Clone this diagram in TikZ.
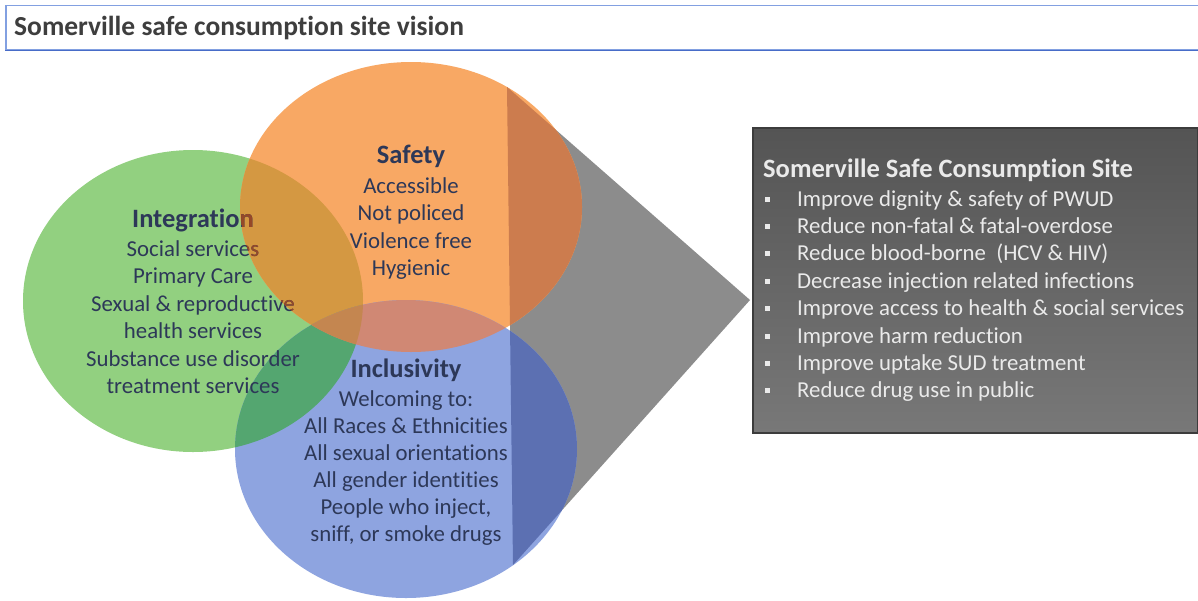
\documentclass[tikz,border=0pt]{standalone}
\usepackage{fontspec}
\setmainfont{Carlito}[Ligatures=NoCommon]
\definecolor{cgreen}{RGB}{146,208,128}
\definecolor{corange}{RGB}{248,168,100}
\definecolor{cblue}{RGB}{142,164,224}
\definecolor{cgo}{RGB}{212,152,66}
\definecolor{cgb}{RGB}{84,166,112}
\definecolor{cob}{RGB}{208,136,116}
\definecolor{cgob}{RGB}{196,134,80}
\definecolor{cgray}{RGB}{140,140,140}
\definecolor{cdorange}{RGB}{204,124,78}
\definecolor{cdblue}{RGB}{92,112,178}
\definecolor{cdob}{RGB}{170,100,90}
\definecolor{navy}{RGB}{45,56,88}
\definecolor{tintbrown}{RGB}{150,72,40}
\definecolor{boxtext}{RGB}{234,234,234}
\definecolor{boxedge}{RGB}{60,60,60}
\definecolor{boxtop}{RGB}{84,84,84}
\definecolor{boxbot}{RGB}{120,120,120}
\definecolor{barblue}{RGB}{130,160,225}
\definecolor{bardark}{RGB}{72,108,200}
\definecolor{titlegray}{RGB}{62,62,62}
\begin{document}
\begin{tikzpicture}[x=1pt,y=-1pt,
  head/.style={font=\fontsize{26.5}{30}\selectfont\bfseries, text=navy, inner sep=0pt, anchor=base},
  body/.style={font=\fontsize{22.8}{27.5}\selectfont, text=navy, inner sep=0pt, anchor=base},
  boxhead/.style={font=\fontsize{26.5}{30}\selectfont\bfseries, text=boxtext, inner sep=0pt, anchor=base west},
  boxbody/.style={font=\fontsize{22.8}{27.5}\selectfont, text=boxtext, inner sep=0pt, anchor=base west},
  bulletsq/.style={fill=boxtext, minimum size=5pt, inner sep=0pt}]
\useasboundingbox (0,0) rectangle (1198,600);
\fill[white] (0,0) rectangle (1198,600);
\def\GE{(193,301) ellipse [x radius=170pt, y radius=151pt]}
\def\OE{(411,207) ellipse [x radius=171pt, y radius=145pt]}
\def\BE{(406,449) ellipse [x radius=171pt, y radius=149pt]}
\def\TR{(507,87) -- (750,300) -- (513,565) -- cycle}
% funnel
\coordinate (tip) at (750,300);
\fill[cgray] \TR;
% circles
\fill[cgreen] \GE;
\fill[corange] \OE;
\fill[cblue] \BE;
\begin{scope}\clip \GE; \fill[cgo] \OE; \end{scope}
\begin{scope}\clip \GE; \fill[cgb] \BE; \end{scope}
\begin{scope}\clip \OE; \fill[cob] \BE; \end{scope}
\begin{scope}\clip \GE; \clip \OE; \fill[cgob] \BE; \end{scope}
\begin{scope}\clip \TR; \fill[cdorange] \OE; \fill[cdblue] \BE;
  \clip \OE; \fill[cdob] \BE; \end{scope}
% Integration text
\node[head] (inthead) at (193,227) {Integration};
\foreach \t [count=\i] in {Social services, Primary Care, Sexual \& reproductive, health services, Substance use disorder, treatment services}
  \node[body] (int\i) at (193,{256+27.5*(\i-1)}) {\t};
\begin{scope}\clip \OE;
\node[head, text=tintbrown] (intheadt) at (193,227) {Integration};
\foreach \t [count=\i] in {Social services, Primary Care, Sexual \& reproductive, health services, Substance use disorder, treatment services}
  \node[body, text=tintbrown] (intt\i) at (193,{256+27.5*(\i-1)}) {\t};
\end{scope}
% Safety text
\node[head] (safhead) at (411,163) {Safety};
\foreach \t [count=\i] in {Accessible, Not policed, Violence free, Hygienic}
  \node[body] (saf\i) at (411,{193+27.5*(\i-1)}) {\t};
% Inclusivity text
\node[head] (inchead) at (406,377) {Inclusivity};
\foreach \t [count=\i] in {Welcoming to:, All Races \& Ethnicities, All sexual orientations, All gender identities, {People who inject,}, {sniff, or smoke drugs}}
  \node[body] (inc\i) at (406,{406+27*(\i-1)}) {\t};
% outcome box
\node[draw=boxedge, line width=1.5pt, top color=boxtop, bottom color=boxbot,
      anchor=north west, minimum width=445pt, minimum height=305pt, inner sep=0pt] (site) at (752,127) {};
\node[boxhead] (sitehead) at (763,177) {Somerville Safe Consumption Site};
\foreach \t [count=\i] in {Improve dignity \& safety of PWUD, Reduce non-fatal \& fatal-overdose, Reduce blood-borne\ \ (HCV \& HIV), Decrease injection related infections, Improve access to health \& social services, Improve harm reduction, Improve uptake SUD treatment, Reduce drug use in public}
{
  \node[boxbody] (sitei\i) at (797,{206+27.4*(\i-1)}) {\t};
  \node[bulletsq] (siteb\i) at (767,{199+27.4*(\i-1)}) {};
}
% title bar
\node[draw=barblue, line width=1.5pt, fill=white, anchor=north west,
      minimum width=1205pt, minimum height=44.5pt, inner sep=0pt] (bar) at (5,4.5) {};
\draw[bardark, line width=1.8pt] (bar.south west) -- (bar.south east);
\node[font=\fontsize{27.5}{31}\selectfont\bfseries, text=titlegray, inner sep=0pt, anchor=base west] (title) at (14,35) {Somerville safe consumption site vision};
\end{tikzpicture}
\end{document}
